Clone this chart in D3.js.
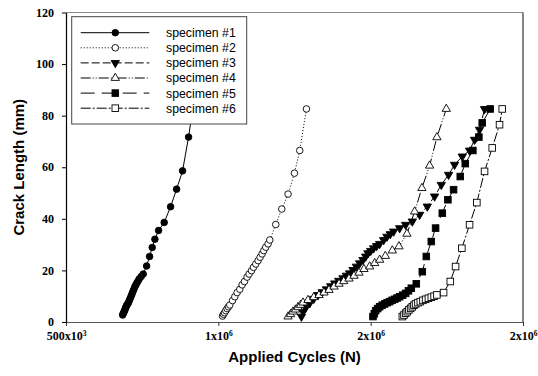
<!DOCTYPE html>
<html><head><meta charset="utf-8">
<script src="https://cdn.jsdelivr.net/npm/d3@7"></script>
<style>
html,body{margin:0;padding:0;background:#fff;}
svg{display:block;}
</style></head>
<body>
<svg id="chart" width="538" height="376"></svg>
<script>
// ---------- data ----------
const seriesNames = ["specimen #1","specimen #2","specimen #3","specimen #4","specimen #5","specimen #6"];

const spec1Cycles = [685900,687500,689500,691400,693400,695200,697000,699000,701500,704300,707000,709800,712600,715400,718000,720700,723400,726200,729500,732800,736500,740300,746500,753400,764600,774400,783000,791800,803900,822300,843300,863000,882600,902300,915000];
const spec1Length = [2.7,3.2,3.7,4.2,4.7,5.3,5.9,6.4,6.9,7.3,8.1,8.9,9.7,10.5,11.3,12.1,12.9,13.7,14.4,15.2,15.9,16.7,17.6,18.6,21.7,25.4,28.9,32.1,35.5,38.6,44.7,51.5,58.6,71.7,82.0];

const spec2Cycles = [1013800,1017000,1020300,1024500,1028800,1033200,1037700,1046500,1054100,1061600,1070500,1078000,1085900,1094400,1101000,1108900,1115400,1123000,1130500,1137100,1143600,1149200,1155700,1163300,1168900,1188500,1208200,1228900,1249800,1267200,1289200];
const spec2Length = [2.3,3.0,3.6,4.4,5.2,5.9,6.6,8.3,9.8,11.4,12.7,14.4,15.7,17.4,18.6,19.9,21.2,22.5,23.8,25.1,26.4,27.7,29.0,30.3,31.8,37.8,43.8,49.6,57.7,66.5,82.6];

const spec3Cycles = [1272800,1278000,1286800,1300000,1313100,1327200,1340900,1354800,1368900,1381900,1395100,1409200,1420300,1431100,1442000,1453100,1463900,1474800,1483700,1491200,1500100,1509800,1519700,1529500,1542600,1553500,1564400,1575400,1595100,1614800,1636700,1660700,1685900,1709800,1731800,1755700,1775400,1800700,1824600,1841000,1857400,1873800];
const spec3Length = [2.1,4.0,5.5,7.3,9.0,10.5,11.6,12.7,13.9,15.0,16.0,17.0,18.0,18.9,20.2,21.5,22.8,24.1,25.4,26.7,27.6,28.6,29.5,30.3,31.8,33.1,34.1,35.1,36.4,37.7,39.0,41.6,44.8,48.7,53.2,57.1,61.0,64.2,66.5,70.7,74.6,82.6];

const spec4Cycles = [1228900,1237100,1245300,1253500,1261600,1269800,1278000,1294400,1313100,1330500,1346900,1363300,1379700,1396100,1411500,1428900,1445300,1461600,1478000,1496700,1513100,1529500,1548200,1571100,1592800,1619000,1644300,1668200,1693500,1717400,1748200];
const spec4Length = [2.1,3.0,4.0,4.8,5.7,6.6,7.5,8.5,9.6,10.4,11.4,12.4,13.7,14.8,15.8,16.8,17.9,19.1,20.5,21.5,22.8,24.1,25.6,27.7,29.3,34.2,42.8,51.9,60.6,71.6,82.6];

const spec5Cycles = [1507600,1512000,1516400,1522900,1529500,1537700,1545900,1554100,1562300,1570500,1578700,1586900,1595100,1605000,1614800,1624100,1633400,1649800,1669500,1682600,1699000,1713100,1735100,1753400,1772100,1794100,1810500,1835400,1855100,1866200,1892500];
const spec5Length = [2.1,3.2,4.4,5.2,5.9,6.5,7.0,7.5,7.9,8.4,8.8,9.3,9.8,10.4,11.1,12.1,13.1,14.8,19.5,25.4,31.2,36.4,42.2,47.4,51.3,56.4,61.4,66.5,71.7,77.2,82.6];

const spec6Cycles = [1604000,1609400,1614800,1620200,1625500,1631100,1636700,1642100,1647500,1655200,1662900,1671600,1680300,1689600,1699000,1708200,1717400,1739300,1761300,1778700,1799300,1824600,1848500,1873800,1899000,1923000,1931800];
const spec6Length = [2.1,2.7,3.4,4.0,4.7,5.3,5.9,6.5,7.0,7.5,7.9,8.4,8.8,9.2,9.6,10.0,10.5,11.4,15.7,21.5,28.6,37.7,46.3,58.4,67.5,76.5,82.6];

const xTickValues = [500000,1000000,1500000,2000000];
const xTickBase = ["500x10","1x10","2x10","2x10"];
const xTickExp = ["3","6","6","6"];
const yTickValues = [0,20,40,60,80,100,120];

// ---------- layout ----------
const svg = d3.select("#chart");
const x = d3.scaleLinear().domain([500000,2000000]).range([66,523]);
const y = d3.scaleLinear().domain([0,120]).range([322,12.5]);

const series = [
  {c:spec1Cycles,l:spec1Length,marker:"circle",fill:"#000",dash:null},
  {c:spec2Cycles,l:spec2Length,marker:"circle",fill:"#fff",dash:"1,2"},
  {c:spec3Cycles,l:spec3Length,marker:"tridown",fill:"#000",dash:"8,3"},
  {c:spec4Cycles,l:spec4Length,marker:"triup",fill:"#fff",dash:"10,2,1,2,1,2"},
  {c:spec5Cycles,l:spec5Length,marker:"square",fill:"#000",dash:"14,7"},
  {c:spec6Cycles,l:spec6Length,marker:"square",fill:"#fff",dash:"10,2,2,2"}
];

// frame
svg.append("line").attr("x1",x.range()[0]).attr("x2",x.range()[1]).attr("y1",y(120)).attr("y2",y(120)).attr("stroke","#8a8a8a").attr("stroke-width",1.2);
svg.append("line").attr("x1",x.range()[1]).attr("x2",x.range()[1]).attr("y1",y(120)).attr("y2",y(0)).attr("stroke","#333").attr("stroke-width",1.2);

// axes
const xAxis = d3.axisBottom(x).tickValues(xTickValues).tickSize(4).tickSizeOuter(0).tickFormat(()=> "");
const gx = svg.append("g").attr("transform",`translate(0,${y(0)})`).call(xAxis);
gx.select(".domain").attr("stroke","#555").attr("stroke-width",1.2);
gx.selectAll(".tick line").attr("stroke","#333");
gx.selectAll(".tick").each(function(d,i){
  const t = d3.select(this).append("text")
    .attr("y",18).attr("fill","#000").attr("text-anchor","middle")
    .style("font-family","'Liberation Serif','Times New Roman',serif")
    .style("font-weight","bold").style("font-size","12px");
  t.append("tspan").text(xTickBase[i]);
  t.append("tspan").attr("dy",-4).style("font-size","7.5px").text(xTickExp[i]);
});

const yAxis = d3.axisLeft(y).tickValues(yTickValues).tickSize(4).tickSizeOuter(0).tickFormat(d3.format("d"));
const gy = svg.append("g").attr("transform",`translate(${x.range()[0]},0)`).call(yAxis);
gy.select(".domain").attr("stroke","#000").attr("stroke-width",1.2);
gy.selectAll(".tick line").attr("stroke","#000");
gy.selectAll(".tick text").attr("x",-12).attr("dy","0.3em").attr("fill","#000")
  .style("font-family","'Liberation Serif','Times New Roman',serif")
  .style("font-weight","bold").style("font-size","12px");

// axis titles
svg.append("text").attr("x",(x.range()[0]+x.range()[1])/2).attr("y",362).attr("text-anchor","middle")
  .style("font-family","'Liberation Sans',Arial,sans-serif").style("font-weight","bold").style("font-size","15px")
  .text("Applied Cycles (N)");
svg.append("text").attr("transform",`translate(24,${(y(0)+y(120))/2}) rotate(-90)`).attr("text-anchor","middle")
  .style("font-family","'Liberation Sans',Arial,sans-serif").style("font-weight","bold").style("font-size","15px")
  .text("Crack Length (mm)");

// markers
function drawMarker(g, s, cx, cy){
  if(s.marker==="circle"){
    g.append("circle").attr("cx",cx).attr("cy",cy).attr("r",3.3).attr("fill",s.fill).attr("stroke","#000").attr("stroke-width",0.9);
  } else if(s.marker==="square"){
    g.append("rect").attr("x",cx-3.3).attr("y",cy-3.3).attr("width",6.6).attr("height",6.6).attr("fill",s.fill).attr("stroke","#000").attr("stroke-width",0.9);
  } else {
    const p = d3.symbol().type(d3.symbolTriangle).size(30)();
    g.append("path").attr("d",p).attr("transform",`translate(${cx},${cy})${s.marker==="tridown"?" rotate(180)":""}`)
      .attr("fill",s.fill).attr("stroke","#000").attr("stroke-width",0.9);
  }
}

const line = d3.line().x(d=>x(d[0])).y(d=>y(d[1]));
const plot = svg.append("g");
series.forEach(s=>{
  const pts = s.c.map((c,i)=>[c,s.l[i]]);
  const g = plot.append("g");
  const path = g.append("path").attr("d",line(pts)).attr("fill","none").attr("stroke","#000").attr("stroke-width",1);
  if(s.dash) path.attr("stroke-dasharray",s.dash);
  pts.forEach(p=>drawMarker(g,s,x(p[0]),y(p[1])));
});

// legend
const lg = svg.append("g");
lg.append("rect").attr("x",71.7).attr("y",16.7).attr("width",175).attr("height",107.3).attr("fill","#fff").attr("stroke","#444").attr("stroke-width",1);
series.forEach((s,i)=>{
  const yy = 32.7 + i*15.1;
  const l = lg.append("line").attr("x1",80.7).attr("x2",149.3).attr("y1",yy).attr("y2",yy).attr("stroke","#000").attr("stroke-width",1);
  if(s.dash) l.attr("stroke-dasharray",s.dash);
  drawMarker(lg,s,115.3,yy);
  lg.append("text").attr("x",166).attr("y",yy).attr("dy","0.36em")
    .style("font-family","'Liberation Sans',Arial,sans-serif").style("font-size","12.3px").text(seriesNames[i]);
});
</script>
</body></html>
